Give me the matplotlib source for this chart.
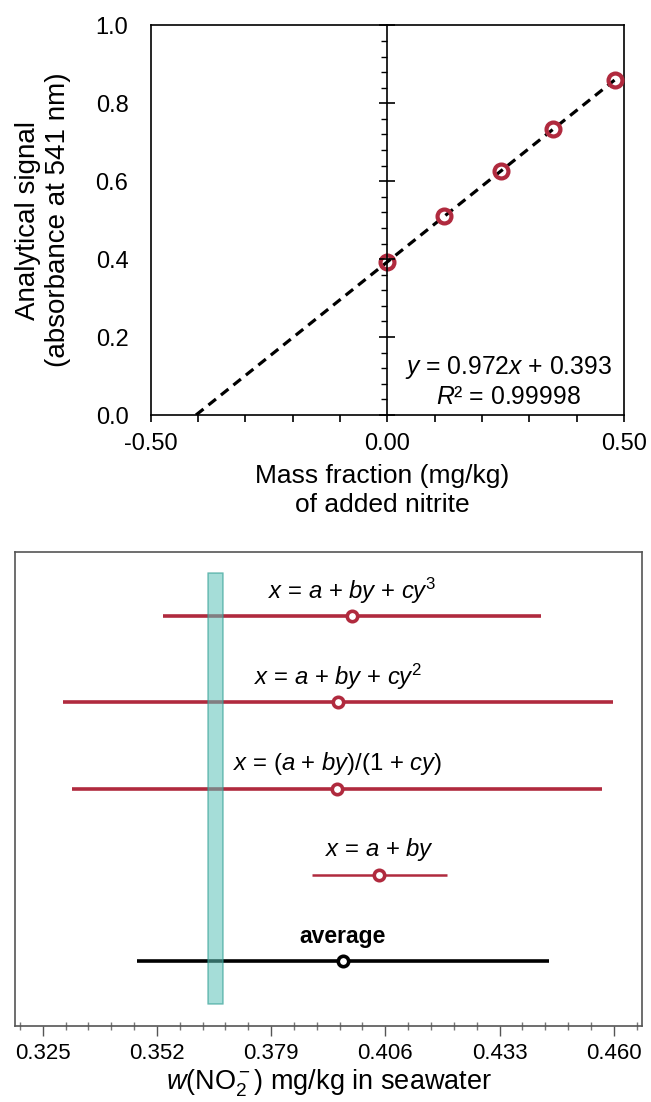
import numpy as np
import matplotlib
matplotlib.use("Agg")
import matplotlib.pyplot as plt
from matplotlib.ticker import MultipleLocator, FixedLocator

plt.rcParams['font.family'] = ['Liberation Sans', 'DejaVu Sans']
plt.rcParams['mathtext.fontset'] = 'custom'
plt.rcParams['mathtext.rm'] = 'Liberation Sans'
plt.rcParams['mathtext.it'] = 'Liberation Sans:italic'
plt.rcParams['mathtext.bf'] = 'Liberation Sans:bold'

# ---------------- data: standard addition calibration ----------------
added_w = [0.0, 0.12, 0.24, 0.35, 0.48]          # mg/kg added nitrite
signal = [0.393, 0.510, 0.626, 0.733, 0.860]      # absorbance at 541 nm
fit_slope = 0.972
fit_intercept = 0.393
fit_r2 = 0.99998

# ---------------- data: results of the different models ----------------
model_labels = [r'$x$ = $a$ + $by$ + $cy^3$',
                r'$x$ = $a$ + $by$ + $cy^2$',
                r'$x$ = ($a$ + $by$)/(1 + $cy$)',
                r'$x$ = $a$ + $by$',
                'average']
model_w = [0.3981, 0.3948, 0.3946, 0.4046, 0.3959]
model_u = [0.0446, 0.0650, 0.0627, 0.0160, 0.0487]
ref_low, ref_high = 0.3640, 0.3676               # reference value band
w_ticks = [0.325, 0.352, 0.379, 0.406, 0.433, 0.460]

red = '#b02a3e'

fig = plt.figure(figsize=(6.51, 11.02), dpi=100)

# ================= top: calibration =================
ax = fig.add_axes([0.2315, 0.6234, 0.727, 0.3536])
x0 = -fit_intercept / fit_slope
xl = np.array([x0, added_w[-1]])
ax.plot(xl, fit_slope * xl + fit_intercept, color='black', lw=2.3,
        linestyle=(0, (3, 2)), zorder=3)
ax.plot(added_w, signal, 'o', ms=10, mfc='none', mec=red, mew=3, zorder=4)

ax.set_xlim(-0.5, 0.5)
ax.set_ylim(0, 1.0)
for s in ax.spines.values():
    s.set_linewidth(1.2)
ax.xaxis.set_major_locator(FixedLocator([-0.5, 0.0, 0.5]))
ax.xaxis.set_minor_locator(MultipleLocator(0.1))
ax.set_xticklabels(['-0.50', '0.00', '0.50'])
ax.tick_params(axis='x', which='both', direction='out', length=5, width=1.2,
               labelsize=17, pad=8)
ax.yaxis.set_major_locator(MultipleLocator(0.2))
ax.yaxis.set_major_formatter(plt.FormatStrFormatter('%.1f'))
ax.tick_params(axis='y', which='both', length=0, labelsize=17, pad=16)

# vertical axis at x = 0 with its own ticks
ax2 = ax.twinx()
ax2.set_ylim(0, 1.0)
for k in ['top', 'bottom', 'right']:
    ax2.spines[k].set_visible(False)
ax2.spines['left'].set_position(('data', 0))
ax2.spines['left'].set_linewidth(1.2)
ax2.yaxis.set_ticks_position('left')
ax2.yaxis.set_major_locator(MultipleLocator(0.2))
ax2.yaxis.set_minor_locator(MultipleLocator(0.04))
ax2.tick_params(axis='y', which='major', direction='inout', length=11, width=1.2,
                labelleft=False)
ax2.tick_params(axis='y', which='minor', direction='out', length=4, width=1.0,
                labelleft=False)

ax.text(0.255, 0.085, '$y$ = %.3f$x$ + %.3f\n$R$\u00b2 = %.5f' % (fit_slope, fit_intercept, fit_r2),
        ha='center', va='center', multialignment='center', fontsize=17.8,
        linespacing=1.2)

ax.set_xlabel('Mass fraction (mg/kg)\nof added nitrite', fontsize=19,
              linespacing=1.3)
ax.xaxis.set_label_coords(0.49, -0.125, transform=ax.transAxes)
ax.xaxis.label.set_verticalalignment('top')
ax.set_ylabel('Analytical signal\n(absorbance at 541 nm)', fontsize=20, labelpad=18,
              linespacing=1.2)

# ================= bottom: model comparison =================
bx = fig.add_axes([0.0235, 0.069, 0.9627, 0.4301])
rows = np.arange(len(model_w), 0, -1)
bx.fill_betweenx([0.5, 5.5], ref_low, ref_high, facecolor='#5cc2b8', alpha=0.55,
                 edgecolor='#2e9d92', lw=1.2, zorder=5)
line_w = [2.6, 2.6, 2.6, 1.8, 2.6]
for i in range(len(model_w)):
    c = 'black' if model_labels[i] == 'average' else red
    bx.errorbar(model_w[i], rows[i], xerr=model_u[i], fmt='o', color=c,
                ecolor=c, elinewidth=line_w[i], capsize=0, ms=7.5, mfc='white',
                mec=c, mew=2.6, zorder=3)
    bx.annotate(model_labels[i], (model_w[i], rows[i]), xytext=(0, 18),
                textcoords='offset points', ha='center', va='center',
                fontsize=16.5 if model_labels[i] == 'average' else 17.2,
                color='black',
                fontweight='bold' if model_labels[i] == 'average' else 'normal')

bx.set_xlim(0.3185, 0.4667)
bx.set_ylim(0.25, 5.74)
for s in bx.spines.values():
    s.set_color('#555555')
    s.set_linewidth(1.2)
bx.set_xticks(w_ticks)
bx.set_xticklabels(['%.3f' % t for t in w_ticks])
bx.xaxis.set_minor_locator(FixedLocator(np.arange(0.3196, 0.466, 0.0054)))
bx.tick_params(axis='x', which='major', direction='out', length=7, width=1.0,
               color='#555555', labelsize=16, pad=5)
bx.tick_params(axis='x', which='minor', direction='inout', length=6, width=1.0,
               color='#777777')
bx.set_yticks([])
bx.set_xlabel(r'$w$(NO$_2^-$) mg/kg in seawater', fontsize=19.5, labelpad=3)

fig.savefig('out.png', dpi=100)
